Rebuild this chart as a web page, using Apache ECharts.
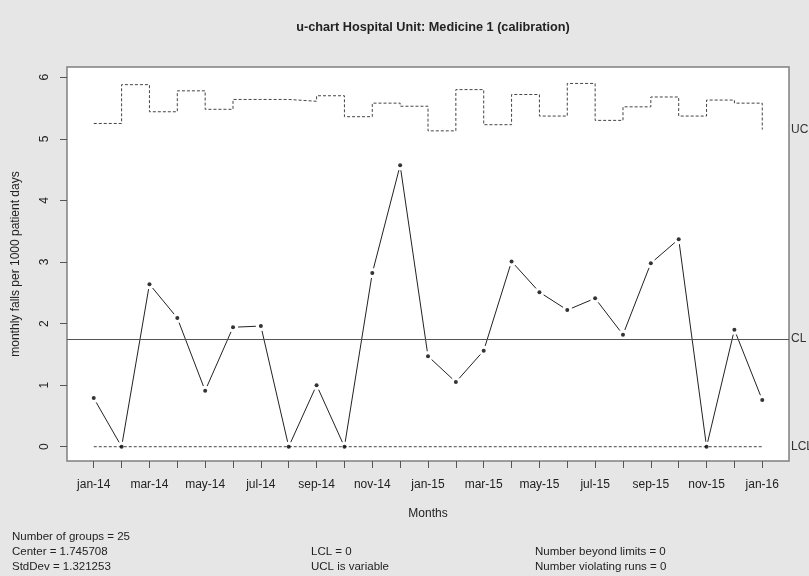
<!DOCTYPE html>
<html>
<head>
<meta charset="utf-8">
<script src="https://cdn.jsdelivr.net/npm/echarts@6/dist/echarts.min.js"></script>
<style>
  html, body { margin: 0; padding: 0; background: #e6e6e6; }
  #chart { width: 809px; height: 576px; }
</style>
</head>
<body>
<div id="chart"></div>
<script>
// ---- data ----
const months = ['jan-14','feb-14','mar-14','apr-14','may-14','jun-14','jul-14','aug-14','sep-14','oct-14','nov-14','dec-14',
                'jan-15','feb-15','mar-15','apr-15','may-15','jun-15','jul-15','aug-15','sep-15','oct-15','nov-15','dec-15','jan-16'];
const rates = [0.79, 0, 2.64, 2.09, 0.91, 1.94, 1.96, 0, 1.00, 0, 2.82, 4.57,
               1.47, 1.05, 1.56, 3.01, 2.51, 2.22, 2.41, 1.82, 2.98, 3.37, 0, 1.90, 0.76];
const ucl = [5.25, 5.88, 5.44, 5.78, 5.48, 5.64, 5.64, 5.61, 5.70, 5.36, 5.58, 5.53,
             5.13, 5.80, 5.23, 5.72, 5.37, 5.90, 5.30, 5.52, 5.68, 5.37, 5.63, 5.58, 5.15];
const center = 1.745708;
const lcl = 0;
const yTicks = [0, 1, 2, 3, 4, 5, 6];
const monthTicks = months.map((m, i) => i);
const monthLabelTicks = monthTicks.filter(i => i % 2 === 0);
const statsLeft = ['Number of groups = 25', 'Center = 1.745708', 'StdDev = 1.321253'];
const statsMid = ['LCL = 0', 'UCL is variable'];
const statsRight = ['Number beyond limits = 0', 'Number violating runs = 0'];

const FONT = '"Liberation Sans", Arial, sans-serif';
const TXT = '#222';
const GAP = 5;

const chart = echarts.init(document.getElementById('chart'), null, { renderer: 'canvas' });

const statStyle = (text, x, y) => ({
  type: 'text', left: x, top: y,
  style: { text: text, fill: TXT, font: '11.5px ' + FONT }
});

const graphics = [];
statsLeft.forEach((t, i) => graphics.push(statStyle(t, 12, 531 + i * 15)));
statsMid.forEach((t, i) => graphics.push(statStyle(t, 311, 546 + i * 15)));
statsRight.forEach((t, i) => graphics.push(statStyle(t, 535, 546 + i * 15)));

// segments between consecutive points: [x0, y0, x1, y1]
const segments = rates.slice(0, -1).map((v, i) => [i, v, i + 1, rates[i + 1]]);

const option = {
  backgroundColor: '#e6e6e6',
  animation: false,
  title: {
    text: 'u-chart Hospital Unit: Medicine 1 (calibration)',
    left: 428, top: 16, textAlign: 'center',
    textStyle: { fontFamily: FONT, fontSize: 12.7, fontWeight: 'bold', color: TXT }
  },
  grid: {
    left: 67, right: 20, top: 67, bottom: 115,
    show: true, backgroundColor: '#ffffff', borderColor: '#808080', borderWidth: 1.5
  },
  xAxis: {
    type: 'value', min: -0.96, max: 24.96,
    name: 'Months', nameLocation: 'middle', nameGap: 47,
    nameTextStyle: { fontFamily: FONT, fontSize: 12, color: TXT },
    splitLine: { show: false },
    axisLine: { show: false, onZero: false },
    axisTick: { show: true, inside: false, length: 7, customValues: monthTicks, lineStyle: { color: '#555' } },
    axisLabel: {
      customValues: monthLabelTicks, margin: 18,
      formatter: v => months[Math.round(v)],
      fontFamily: FONT, fontSize: 12, color: TXT
    }
  },
  yAxis: {
    type: 'value', min: -0.232, max: 6.167,
    name: 'monthly falls per 1000 patient days', nameLocation: 'middle', nameGap: 45,
    nameTextStyle: { fontFamily: FONT, fontSize: 12, color: TXT },
    splitLine: { show: false },
    axisLine: { show: false, onZero: false },
    axisTick: { show: true, inside: false, length: 7, customValues: yTicks, lineStyle: { color: '#555' } },
    axisLabel: {
      customValues: yTicks, rotate: 90, margin: 16,
      fontFamily: FONT, fontSize: 12, color: TXT
    }
  },
  graphic: graphics,
  series: [
    {
      name: 'rate', type: 'custom', z: 2, silent: true,
      data: segments,
      encode: { x: [0, 2], y: [1, 3] },
      renderItem: function (params, api) {
        const p0 = api.coord([api.value(0), api.value(1)]);
        const p1 = api.coord([api.value(2), api.value(3)]);
        const dx = p1[0] - p0[0], dy = p1[1] - p0[1];
        const len = Math.sqrt(dx * dx + dy * dy);
        if (len <= 2 * GAP) return null;
        const ux = dx / len, uy = dy / len;
        return {
          type: 'line',
          shape: { x1: p0[0] + ux * GAP, y1: p0[1] + uy * GAP, x2: p1[0] - ux * GAP, y2: p1[1] - uy * GAP },
          style: { stroke: '#222', lineWidth: 1 }
        };
      }
    },
    {
      name: 'UCL', type: 'line', z: 3, step: 'end',
      data: ucl.map((v, i) => [i, v]),
      symbol: 'none',
      lineStyle: { color: '#444', width: 1, type: [3, 2] },
      markLine: {
        silent: true, symbol: 'none',
        lineStyle: { color: 'rgba(0,0,0,0)', width: 0 },
        label: { show: true, position: 'end', distance: 2, formatter: 'UCL', fontFamily: FONT, fontSize: 12, color: '#333' },
        data: [{ yAxis: ucl[ucl.length - 1] }]
      }
    },
    {
      name: 'LCL', type: 'line', z: 3,
      data: months.map((m, i) => [i, lcl]),
      symbol: 'none',
      lineStyle: { color: '#444', width: 1, type: [3, 2] },
      markLine: {
        silent: true, symbol: 'none',
        label: { show: true, position: 'end', distance: 2, fontFamily: FONT, fontSize: 12, color: '#333' },
        data: [
          { yAxis: center, lineStyle: { color: '#555', width: 1, type: 'solid' }, label: { formatter: 'CL' } },
          { yAxis: lcl, lineStyle: { color: 'rgba(0,0,0,0)', width: 0 }, label: { formatter: 'LCL' } }
        ]
      }
    },
    {
      name: 'points', type: 'scatter', z: 5,
      data: rates.map((v, i) => [i, v]),
      symbol: 'circle', symbolSize: 4,
      itemStyle: { color: '#000' },
      silent: true
    }
  ]
};

chart.setOption(option);
</script>
</body>
</html>
